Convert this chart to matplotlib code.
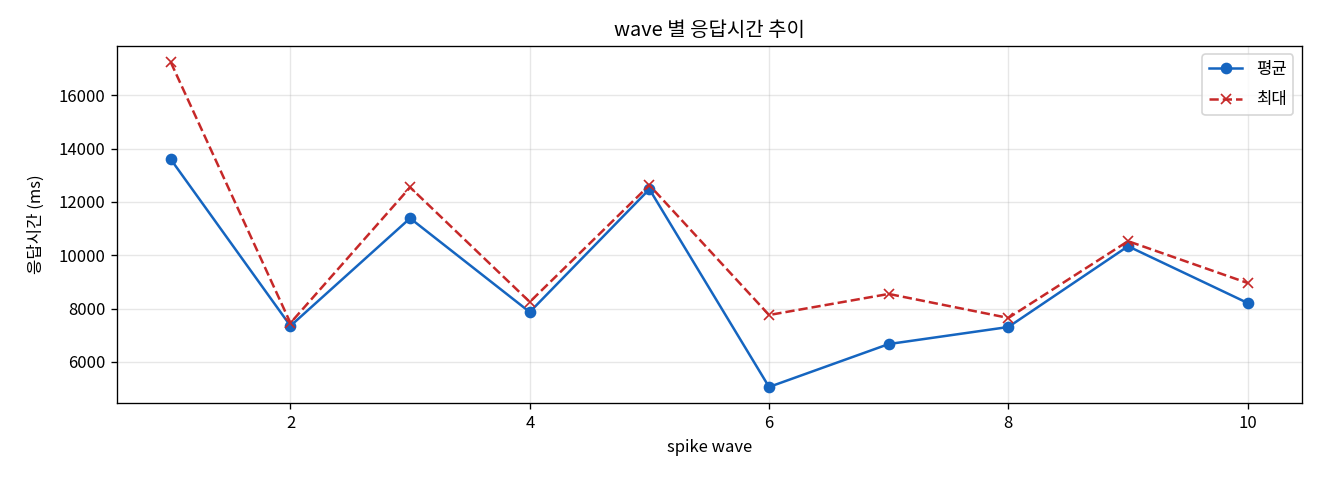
import matplotlib
matplotlib.use("Agg")
import matplotlib.pyplot as plt

plt.rcParams['font.family'] = ['Noto Sans CJK KR', 'DejaVu Sans']
plt.rcParams['axes.unicode_minus'] = False

waves = [1, 2, 3, 4, 5, 6, 7, 8, 9, 10]
avg_ms = [13600, 7350, 11390, 7870, 12480, 5060, 6670, 7310, 10340, 8210]
max_ms = [17240, 7460, 12550, 8250, 12630, 7760, 8550, 7650, 10530, 8960]

fig, ax = plt.subplots(figsize=(11, 4), dpi=120)
ax.plot(waves, avg_ms, marker="o", linestyle="-", color="#1565C0", label="평균")
ax.plot(waves, max_ms, marker="x", linestyle="--", color="#C62828", label="최대")

ax.set_title("wave 별 응답시간 추이")
ax.set_xlabel("spike wave")
ax.set_ylabel("응답시간 (ms)", labelpad=8)
ax.grid(True, alpha=0.3)
ax.legend(loc="upper right", labelspacing=0.8)

fig.subplots_adjust(left=0.0886, right=0.986, top=0.904, bottom=0.160)
fig.savefig("out.png")
